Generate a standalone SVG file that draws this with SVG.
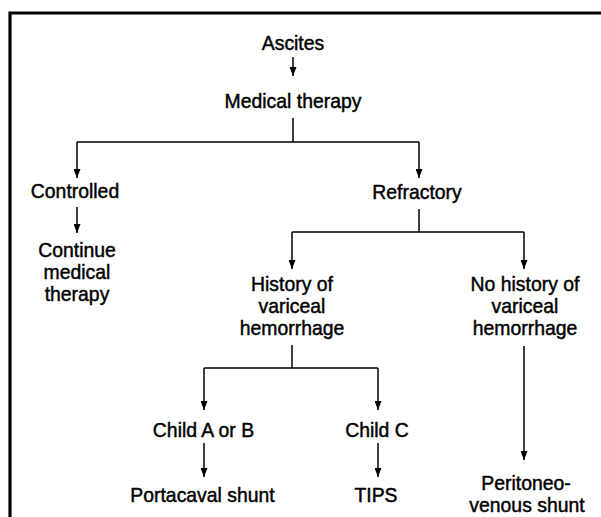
<svg xmlns="http://www.w3.org/2000/svg" width="601" height="517" viewBox="0 0 601 517">
<style>
  text { font-family: "Liberation Sans", Arial, sans-serif; font-size: 20px; fill: #000; text-anchor: middle; stroke: #000; stroke-width: 0.45px; }
  .c { fill: none; stroke: #000; stroke-width: 1.5; }
  .frame { fill: none; stroke: #000; stroke-width: 3.2; }
</style>
<defs>
  <marker id="ah" markerUnits="userSpaceOnUse" markerWidth="9" markerHeight="7" viewBox="0 0 9 7" refX="9" refY="3.5" orient="auto">
    <path d="M0,0 L9,3.5 L0,7 z" fill="#000"/>
  </marker>
</defs>
<rect width="601" height="517" fill="#fff"/>
<path class="frame" d="M10,517 V13 H601"/>
<g id="connectors">
  <line class="c" x1="293" y1="57" x2="293" y2="76" marker-end="url(#ah)"/>
  <path class="c" d="M293,118 V142"/>
  <path class="c" d="M77,142 H419"/>
  <line class="c" x1="77" y1="142" x2="77" y2="178" marker-end="url(#ah)"/>
  <line class="c" x1="419" y1="142" x2="419" y2="178" marker-end="url(#ah)"/>
  <line class="c" x1="77" y1="207" x2="77" y2="233" marker-end="url(#ah)"/>
  <path class="c" d="M419,209 V232"/>
  <path class="c" d="M292,232 H524"/>
  <line class="c" x1="292" y1="232" x2="292" y2="269" marker-end="url(#ah)"/>
  <line class="c" x1="524" y1="232" x2="524" y2="269" marker-end="url(#ah)"/>
  <path class="c" d="M292,345 V368"/>
  <path class="c" d="M204,368 H378"/>
  <line class="c" x1="204" y1="368" x2="204" y2="410" marker-end="url(#ah)"/>
  <line class="c" x1="378" y1="368" x2="378" y2="410" marker-end="url(#ah)"/>
  <line class="c" x1="204" y1="443" x2="204" y2="477" marker-end="url(#ah)"/>
  <line class="c" x1="378" y1="443" x2="378" y2="477" marker-end="url(#ah)"/>
  <line class="c" x1="524" y1="346" x2="524" y2="460" marker-end="url(#ah)"/>
</g>
<g id="ascites" transform="translate(293,50) scale(0.97,1)"><text x="0" y="0">Ascites</text></g>
<g id="medical" transform="translate(293,108) scale(0.97,1)"><text x="0" y="0">Medical therapy</text></g>
<g id="controlled" transform="translate(75,198) scale(0.97,1)"><text x="0" y="0">Controlled</text></g>
<g id="continue" transform="translate(77,257) scale(0.97,1)"><text x="0" y="0">Continue</text><text x="0" y="22">medical</text><text x="0" y="44">therapy</text></g>
<g id="refractory" transform="translate(417,199) scale(0.97,1)"><text x="0" y="0">Refractory</text></g>
<g id="history" transform="translate(292,291) scale(0.97,1)"><text x="0" y="0">History of</text><text x="0" y="22">variceal</text><text x="0" y="44">hemorrhage</text></g>
<g id="nohistory" transform="translate(525,291) scale(0.97,1)"><text x="0" y="0">No history of</text><text x="0" y="22">variceal</text><text x="0" y="44">hemorrhage</text></g>
<g id="childab" transform="translate(203.5,437) scale(0.97,1)"><text x="0" y="0">Child A or B</text></g>
<g id="childc" transform="translate(377,437) scale(0.97,1)"><text x="0" y="0">Child C</text></g>
<g id="portacaval" transform="translate(202.5,502) scale(0.97,1)"><text x="0" y="0">Portacaval shunt</text></g>
<g id="tips" transform="translate(376,502) scale(0.97,1)"><text x="0" y="0">TIPS</text></g>
<g id="peritoneo" transform="translate(526,490) scale(0.97,1)"><text x="0" y="0">Peritoneo-</text><text x="1" y="22">venous shunt</text></g>
</svg>
